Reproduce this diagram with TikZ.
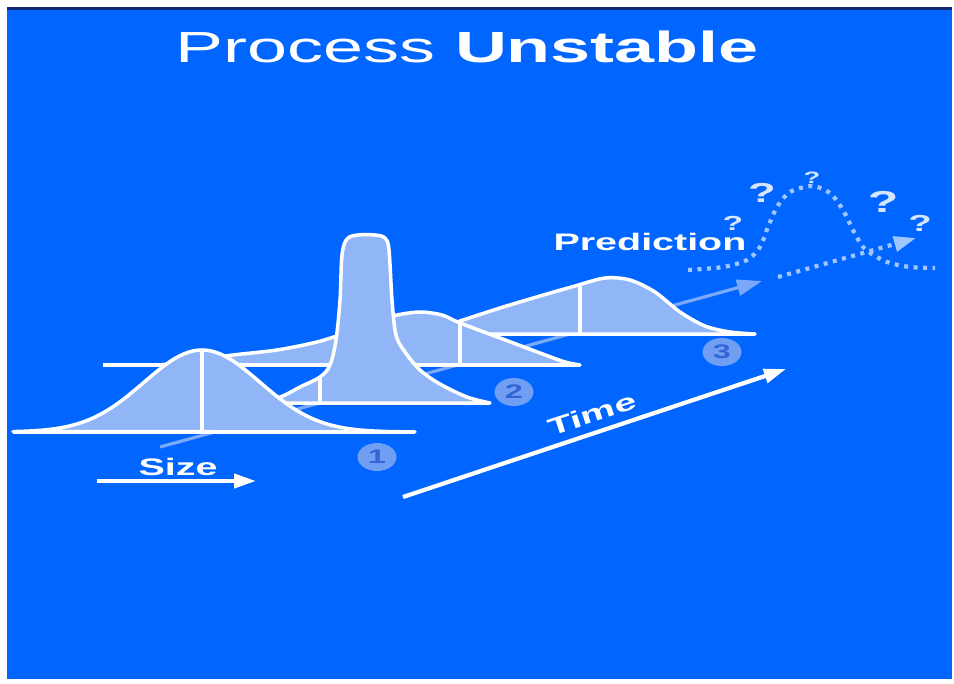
\documentclass[tikz,border=0pt]{standalone}
\usepackage{fontspec}
\setmainfont{Liberation Sans}[FakeStretch=1.65]
\usetikzlibrary{arrows.meta}
\usetikzlibrary{shapes.geometric}

\definecolor{bgblue}{RGB}{0,102,255}
\definecolor{bellfill}{RGB}{145,182,248}
\definecolor{axisblue}{RGB}{125,168,250}
\definecolor{dotblue}{RGB}{160,198,255}
\definecolor{numfill}{RGB}{112,158,242}
\definecolor{numtext}{RGB}{50,100,215}
\definecolor{qwhite}{RGB}{215,230,255}
\definecolor{edgenavy}{RGB}{20,40,120}

\begin{document}
\begin{tikzpicture}[x=0.1mm, y=-0.1mm,
    bell/.style={draw=white, line width=1pt, fill=bellfill, line join=round},
    base/.style={white, line width=1.1pt},
    lbl/.style={text=white, font=\bfseries\fontsize{6.8}{8}\selectfont, inner sep=0pt},
    qmark/.style={text=qwhite, font=\bfseries\fontsize{#1}{#1}\selectfont, inner sep=0pt},
    numbox/.style={ellipse, fill=numfill, minimum width=3.9mm, minimum height=2.8mm, inner sep=0pt,
        text=numtext, font=\bfseries\fontsize{5.6}{6}\selectfont},
    dots/.style={dotblue, line width=1.2pt, dash pattern=on 0.4mm off 0.55mm}]
    
    \useasboundingbox (0,0) rectangle (954,683);
    \fill[white] (0,0) rectangle (954,683);
    \fill[bgblue] (7,8) rectangle (952,679);
    \draw[edgenavy, line width=0.6pt] (7,8.5) -- (952,8.5);
    
    \coordinate (ax0) at (160,447);
    \coordinate (ax1) at (762,281);
    \coordinate (pr0) at (778,277);
    \coordinate (pr1) at (916,238);
    \coordinate (sz0) at (97,481);
    \coordinate (sz1) at (256,481);
    \coordinate (tm0) at (403,497);
    \coordinate (tm1) at (786,369);
    
    \node[font=\fontsize{12.4}{14}\selectfont, text=white, anchor=base, inner sep=0pt] (title) at (467,62) {Process \textbf{Unstable}};
    
    % centre line through the distributions
    \draw[axisblue, line width=0.9pt, -{Triangle[length=2.5mm,width=1.6mm]}] (ax0) -- (ax1);
    
    % back bell
    \draw[bell] plot[smooth] coordinates {(400,334) (440,328) (460,321) (500,308) (540,296) (575,286) (605,278) (630,280) (655,292) (680,312) (705,326) (730,332) (755,334)} -- cycle;
    \draw[base] (580,285) -- (580,334);
    
    % wide bell
    \draw[bell] plot[smooth] coordinates {(160,365) (190,361) (233,355) (277,350) (317,342) (345,333) (370,322) (397,315) (420,312) (442,315) (460,323) (500,338) (540,353) (565,362) (580,365)} -- cycle;
    \draw[base] (103,365) -- (580,365);
    \draw[base] (460,323) -- (460,365);
    
    % tall bell
    \draw[bell] plot[smooth, tension=0.55] coordinates {(265,403) (285,395) (300,387) (320,377) (330,365) (336,340) (340,300) (342,255) (347,239) (358,235) (375,235) (385,238) (389,250) (392,300) (396,335) (405,352) (420,370) (440,384) (467,397) (490,403)} -- cycle;
    \draw[base] (320,377) -- (320,403);
    
    % front bell
    \draw[bell] plot[domain=13:415, samples=90] (\x, {432-82*exp(-((\x-202)/58)^2/2)}) -- cycle;
    \draw[base] (13,432) -- (415,432);
    \draw[base] (202,350) -- (202,432);
    
    \node[numbox] (n1) at (377,457) {1};
    \node[numbox] (n2) at (514,392) {2};
    \node[numbox] (n3) at (722,352) {3};
    
    % prediction
    \draw[dots, -{Triangle[length=2.2mm,width=1.5mm]}] (pr0) -- (pr1);
    \draw[dots] plot[smooth] coordinates {(688,270) (723,267) (747,260) (760,247) (768,227) (777,207) (790,192) (812,186) (830,193) (843,210) (853,230) (863,247) (875,256) (890,263) (910,267) (935,268)};
    \node[lbl, anchor=base] (pred) at (650,250) {Prediction};
    \node[qmark=5.8] (q1) at (733,223) {?};
    \node[qmark=7.8] (q2) at (762,193) {?};
    \node[qmark=4.7] (q3) at (812,178) {?};
    \node[qmark=8.6] (q4) at (883,202) {?};
    \node[qmark=6.6] (q5) at (920,223) {?};
    
    % axes
    \node[lbl, anchor=base] (size) at (178,475) {Size};
    \draw[white, line width=1.2pt, -{Triangle[length=2.2mm,width=1.4mm]}] (sz0) -- (sz1);
    \node[lbl, rotate=18] (time) at (592,414) {Time};
    \draw[white, line width=1.2pt, -{Triangle[length=2.2mm,width=1.4mm]}] (tm0) -- (tm1);
\end{tikzpicture}
\end{document}
